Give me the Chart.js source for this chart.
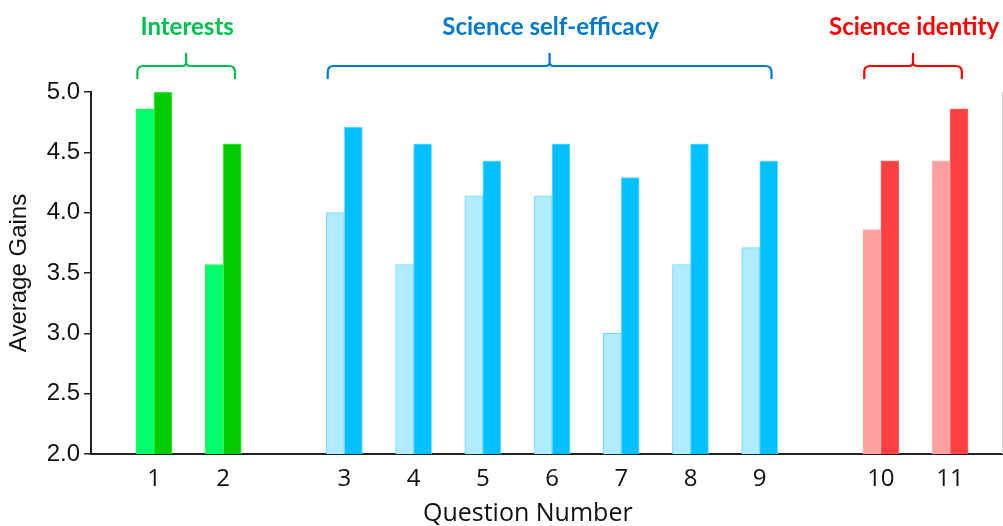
<!DOCTYPE html>
<html>
<head>
<meta charset="utf-8">
<script src="https://cdn.jsdelivr.net/npm/chart.js@4.4.1/dist/chart.umd.min.js"></script>
<style>
  html, body { margin: 0; padding: 0; background: #fff; }
  #wrap { width: 1003px; height: 526px; }
</style>
</head>
<body>
<div id="wrap"><canvas id="gains"></canvas></div>
<script>
const questions = ['1', '2', '3', '4', '5', '6', '7', '8', '9', '10', '11']
const questionGroup = [0, 0, 1, 1, 1, 1, 1, 1, 1, 2, 2]
const beforeGains = [4.86, 3.57, 4.00, 3.57, 4.14, 4.14, 3.00, 3.57, 3.71, 3.86, 4.43]
const afterGains = [5.00, 4.57, 4.71, 4.57, 4.43, 4.57, 4.29, 4.57, 4.43, 4.43, 4.86]
const groupNames = ['Interests', 'Science self-efficacy', 'Science identity']
const yTicks = [2.0, 2.5, 3.0, 3.5, 4.0, 4.5, 5.0]

// colours per group
const titleColors = ['#00c050', '#0078d0', '#ff0000']
const lightFill = ['#00ff6a', '#b0ebff', '#ffa0a0']
const lightBorder = ['#33ff55', '#6cdaff', '#ffb4b4']
const darkFill = ['#00cc00', '#00c0ff', '#ff4040']
const darkBorder = ['#44ee44', '#70dcff', '#ff6a6a']

// slot on the x axis: one unit per question, extra 0.75 between groups
const slots = []
questions.forEach((q, i) => {
  let s = i + 1 + questionGroup[i] * 0.75
  slots.push(s)
})

const toPoints = arr => arr.map((v, i) => ({ x: slots[i], y: v }))

const bracketPlugin = {
  id: 'brackets',
  afterDraw(chart) {
    const ctx = chart.ctx
    const xs = chart.scales.x
    const area = chart.chartArea
    ctx.save()
    // thin right border
    ctx.strokeStyle = '#d4d4d4'
    ctx.lineWidth = 1
    ctx.beginPath()
    ctx.moveTo(area.right + 0.5, area.top)
    ctx.lineTo(area.right + 0.5, area.bottom)
    ctx.stroke()

    // x axis title, sits a little left of the plot centre in the original
    ctx.fillStyle = '#111'
    ctx.font = '25px "Open Sans"'
    ctx.textAlign = 'center'
    ctx.textBaseline = 'middle'
    ctx.fillText('Question Number', xs.getPixelForValue(6.4), 514)

    groupNames.forEach((name, g) => {
      const idx = questionGroup.map((v, i) => v === g ? i : -1).filter(i => i >= 0)
      const x0 = xs.getPixelForValue(slots[idx[0]] - 0.24)
      const x1 = xs.getPixelForValue(slots[idx[idx.length - 1]] + 0.17)
      const mid = (x0 + x1) / 2
      const yb = 66, yEnd = 79, yTop = 53, r = 6
      ctx.strokeStyle = titleColors[g]
      ctx.lineWidth = 2.2
      ctx.beginPath()
      ctx.moveTo(x0, yEnd)
      ctx.lineTo(x0, yb + r)
      ctx.quadraticCurveTo(x0, yb, x0 + r, yb)
      ctx.lineTo(mid - 4, yb)
      ctx.quadraticCurveTo(mid, yb, mid, yb - 4)
      ctx.lineTo(mid, yTop)
      ctx.moveTo(mid, yb - 4)
      ctx.quadraticCurveTo(mid, yb, mid + 4, yb)
      ctx.lineTo(x1 - r, yb)
      ctx.quadraticCurveTo(x1, yb, x1, yb + r)
      ctx.lineTo(x1, yEnd)
      ctx.stroke()

      ctx.fillStyle = titleColors[g]
      ctx.font = 'bold 24px Lato'
      ctx.fillText(name, mid + 1, 27)
    })
    ctx.restore()
  }
}

new Chart(document.getElementById('gains'), {
  type: 'bar',
  data: {
    datasets: [
      {
        label: 'Before',
        data: toPoints(beforeGains),
        backgroundColor: c => lightFill[questionGroup[c.dataIndex]],
        borderColor: c => lightBorder[questionGroup[c.dataIndex]],
        borderWidth: 1,
        barThickness: 18
      },
      {
        label: 'After',
        data: toPoints(afterGains),
        backgroundColor: c => darkFill[questionGroup[c.dataIndex]],
        borderColor: c => darkBorder[questionGroup[c.dataIndex]],
        borderWidth: 1,
        barThickness: 18
      }
    ]
  },
  options: {
    responsive: true,
    maintainAspectRatio: false,
    animation: false,
    layout: { padding: { top: 92, right: 1, left: 0, bottom: 0 } },
    plugins: {
      legend: { display: false },
      tooltip: { enabled: false }
    },
    scales: {
      x: {
        type: 'linear',
        min: 0.09,
        max: 13.25,
        offset: false,
        afterBuildTicks: s => { s.ticks = slots.map(v => ({ value: v })) },
        afterFit: s => { s.height = 72 },
        grid: { display: false, offset: false },
        border: { display: true, color: '#222', width: 2 },
        ticks: {
          autoSkip: false,
          maxRotation: 0,
          padding: 3,
          color: '#111',
          font: { family: 'Open Sans', size: 24 },
          callback: (v, i) => questions[i]
        },
        title: { display: false }
      },
      y: {
        min: 2,
        max: 5,
        afterBuildTicks: s => { s.ticks = yTicks.map(v => ({ value: v })) },
        afterFit: s => { s.width = 91 },
        grid: { drawOnChartArea: false, drawTicks: true, tickLength: 7, color: '#222', lineWidth: 1.5 },
        border: { display: true, color: '#222', width: 2 },
        ticks: {
          padding: 4,
          color: '#111',
          font: { family: 'Liberation Sans', size: 24 },
          callback: v => v.toFixed(1)
        },
        title: {
          display: true,
          text: 'Average Gains',
          color: '#111',
          font: { family: 'Liberation Sans', size: 24 },
          padding: { top: 5, bottom: 0 }
        }
      }
    }
  },
  plugins: [bracketPlugin]
})
</script>
</body>
</html>
